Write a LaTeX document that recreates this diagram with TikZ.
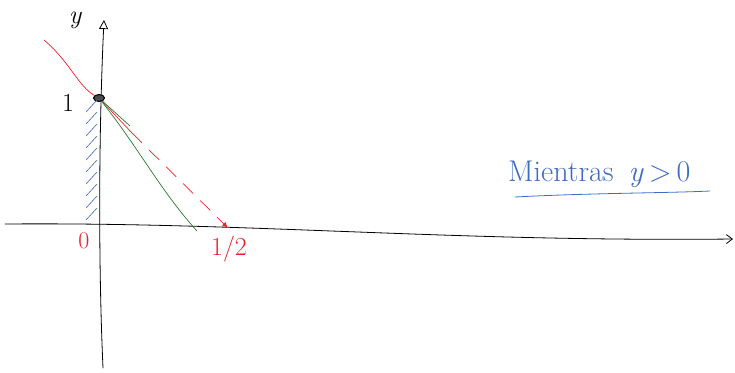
\documentclass[tikz,border=0pt]{standalone}
\usepackage{amsmath,amssymb}
\usepackage{fontspec}
\usetikzlibrary{arrows.meta,positioning,calc,shapes.geometric}
\definecolor{sketchRed}{HTML}{E8242A}
\definecolor{sketchGreen}{HTML}{2A7A2E}
\definecolor{sketchBlue}{HTML}{3F6CC0}
\begin{document}
\begin{tikzpicture}[x=1pt,y=-1pt,line cap=round,line join=round,
    axisline/.style={black,line width=0.8pt},
    redlbl/.style={text=sketchRed,inner sep=0pt},
    hatch/.style={sketchBlue,line width=0.6pt}]
  \useasboundingbox (0,0) rectangle (735,372);
  % axes
  \coordinate (xstart) at (5,224);
  \coordinate (xend) at (733,239);
  \coordinate (ybot) at (103,368);
  \coordinate (ytop) at (104,20);
  \draw[axisline,-{Straight Barb[length=6pt,width=9pt]}] (xstart) .. controls (250,222) and (450,242) .. (xend);
  \draw[axisline,-{Triangle[open,length=9pt,width=9pt]}] (ybot) .. controls (99,280) and (98,150) .. (ytop);
  \node[font=\fontsize{26}{26}\selectfont\itshape,inner sep=0pt] (ylbl) at (75,20) {y};
  \node[font=\fontsize{26}{26}\selectfont,inner sep=0pt] (onelbl) at (68,103) {1};
  % point (0,1)
  \node[ellipse,draw,fill=black!70,line width=1pt,minimum width=11pt,minimum height=7pt,inner sep=0pt] (pt) at (99,98) {};
  % curves
  \coordinate (rstart) at (44,40);
  \coordinate (rmid) at (132,133);
  \coordinate (half) at (228,228);
  \coordinate (gend) at (197,231);
  \coordinate (gshort) at (130,126);
  \draw[sketchRed,line width=0.7pt] (rstart) .. controls (70,62) and (78,86) .. (pt);
  \draw[sketchRed,line width=0.7pt] (pt) -- (rmid);
  \draw[sketchRed,line width=0.7pt,dash pattern=on 14pt off 10pt,-{Latex[length=6pt,width=5pt]}] (rmid) -- (half);
  \draw[sketchGreen,line width=0.7pt] (pt) .. controls (140,150) and (160,190) .. (gend);
  \draw[sketchGreen,line width=0.7pt] (pt) -- (gshort);
  % hatching left of the axis
  \foreach \yy in {112,124,...,220}
    \draw[hatch] (86,\yy) -- (97,\yy-12);
  \node[redlbl,font=\fontsize{24}{24}\selectfont] (zerolbl) at (84,241) {0};
  \node[redlbl,font=\fontsize{26}{26}\selectfont] (halflbl) at (229,249) {1/2};
  % note
  \node[text=sketchBlue,font=\fontsize{30}{30}\selectfont,inner sep=0pt,anchor=base west] (note) at (508,181) {Mientras\enspace\textit{y}\,>\,0};
  \coordinate (ulstart) at (515,197);
  \coordinate (ulend) at (710,191);
  \draw[sketchBlue,line width=0.8pt] (ulstart) .. controls (590,193) and (670,193) .. (ulend);
\end{tikzpicture}
\end{document}
